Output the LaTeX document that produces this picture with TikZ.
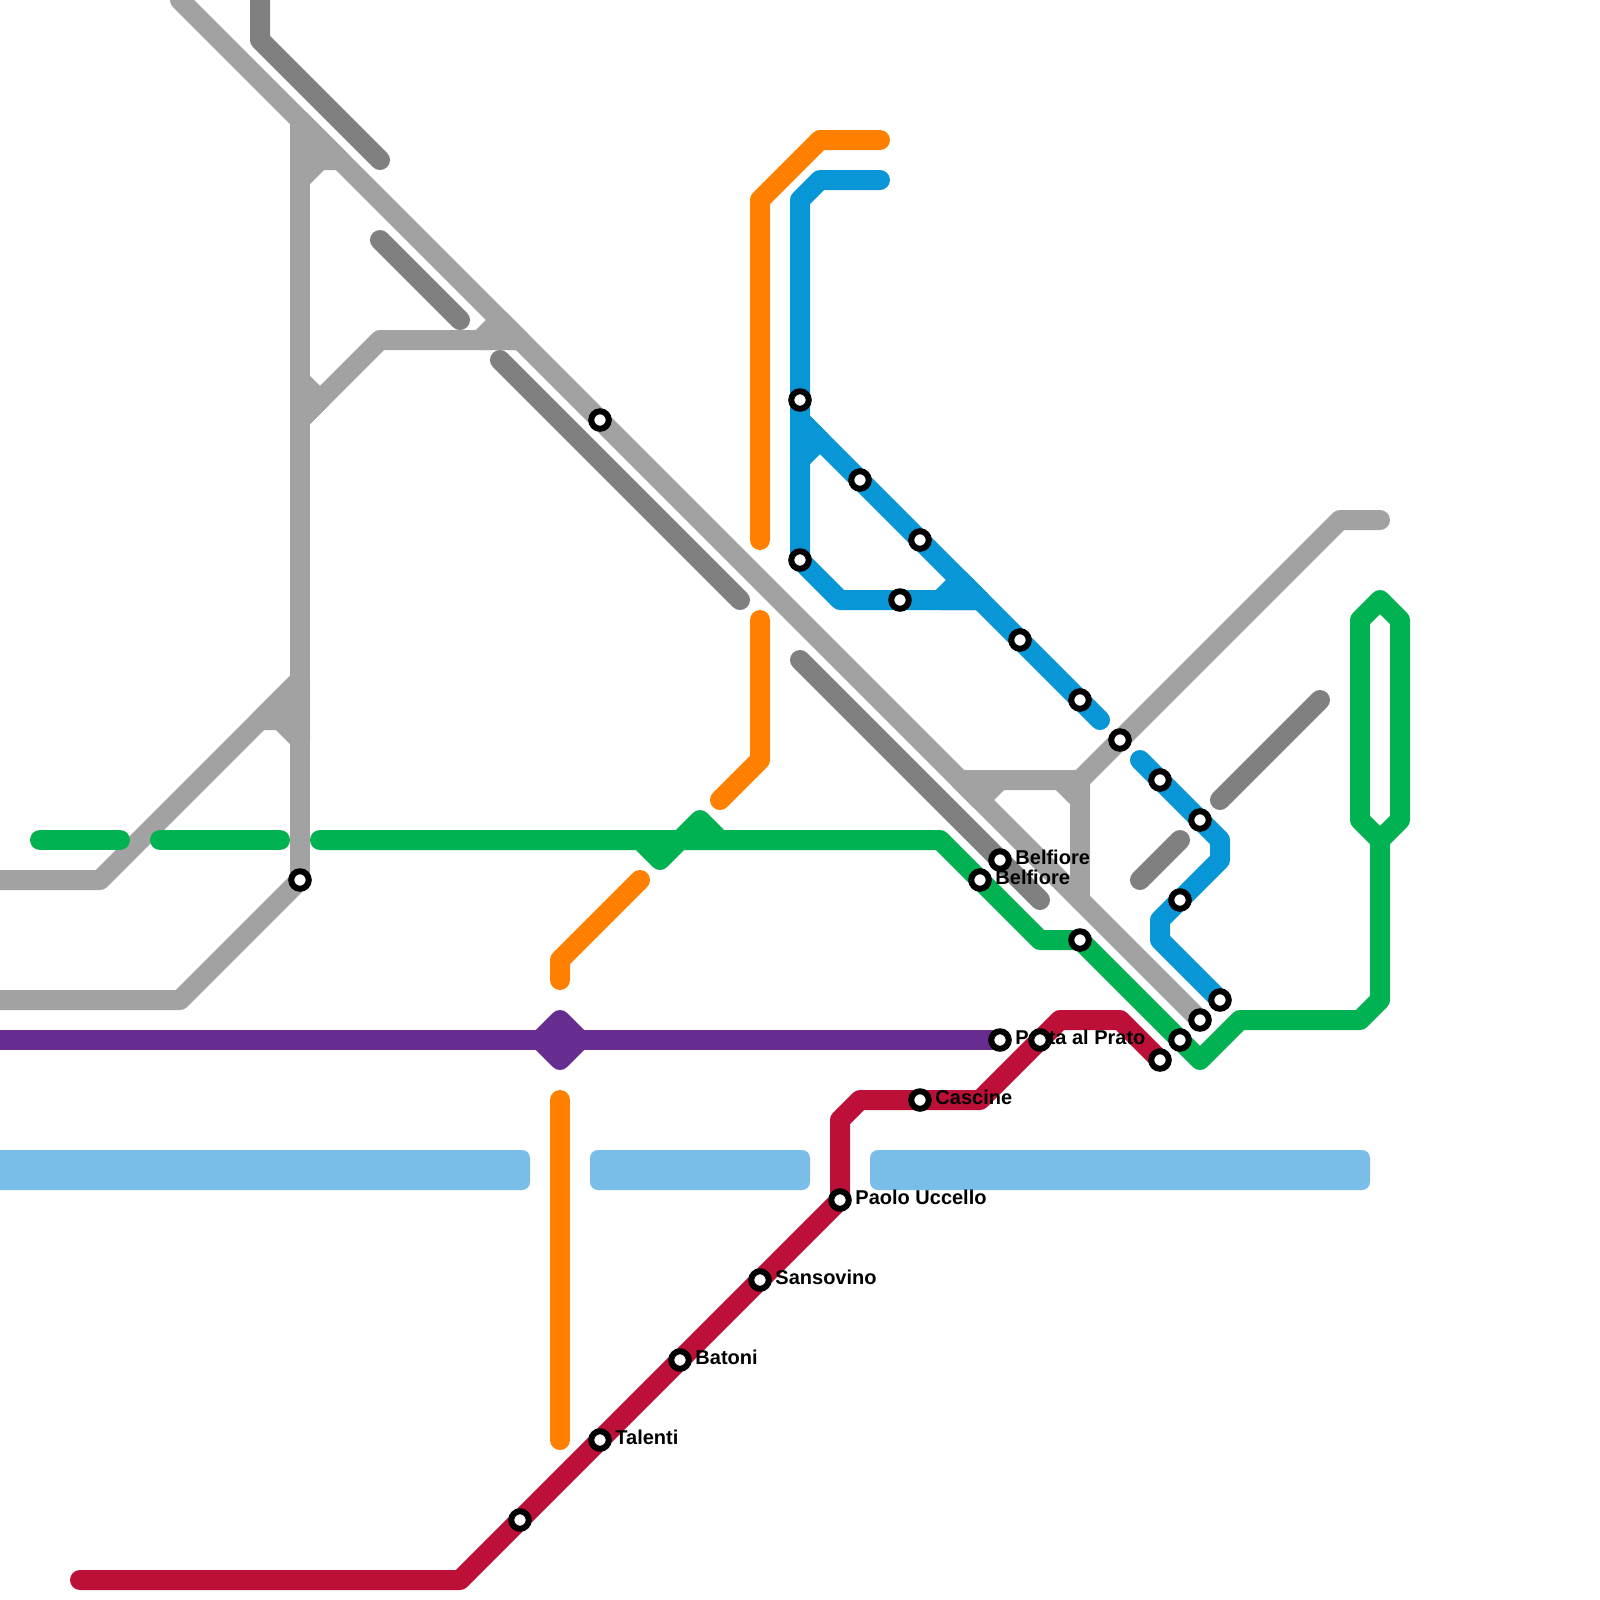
\documentclass[tikz,border=0pt]{standalone}
\usepackage{fontspec}
\setmainfont{Liberation Sans}
\usepackage{xcolor}
\usepackage{tikz}

\definecolor{ltgrey}{HTML}{A2A2A2}
\definecolor{dkgrey}{HTML}{808080}
\definecolor{mgreen}{HTML}{00B251}
\definecolor{mblue}{HTML}{0896D7}
\definecolor{morange}{HTML}{FF8000}
\definecolor{mpurple}{HTML}{662C90}
\definecolor{mred}{HTML}{BD1038}
\definecolor{river}{HTML}{79BDE9}

\begin{document}
\begin{tikzpicture}[x=0.2cm,y=-0.2cm,
    track/.style={line width=0.2cm,line cap=round,line join=round},
    stn/.style={circle,draw=black,fill=white,line width=0.06cm,minimum size=0.175cm,inner sep=0pt},
    stnname/.style={font=\fontsize{5.69pt}{6pt}\selectfont\bfseries,inner sep=0pt,text height=0.14cm,text depth=0pt,yshift=0.027cm},
    every label/.style={stnname},label distance=0.03cm]
  \useasboundingbox (0,0) rectangle (80,80);
  % river
  \fill[river,rounded corners=0.08cm] (-1,57.5) rectangle (26.5,59.5);
  \fill[river,rounded corners=0.08cm] (29.5,57.5) rectangle (40.5,59.5);
  \fill[river,rounded corners=0.08cm] (43.5,57.5) rectangle (68.5,59.5);
  % light grey lines
  \draw[track,ltgrey] (9,0) -- (60,51);
  \draw[track,ltgrey] (15,6) -- (15,44);
  \draw[track,ltgrey] (-1,44) -- (5,44) -- (15,34);
  \draw[track,ltgrey] (-1,50) -- (9,50) -- (15,44);
  \draw[track,ltgrey] (15,21) -- (19,17) -- (26,17);
  \draw[track,ltgrey] (48,39) -- (54,39) -- (67,26) -- (69,26);
  \draw[track,ltgrey] (54,39) -- (54,45);
  \filldraw[track,ltgrey] (15,6) -- (17,8) -- (16,8) -- (15,9) -- cycle;
  \filldraw[track,ltgrey] (15,19) -- (16,20) -- (15,21) -- cycle;
  \filldraw[track,ltgrey] (24,17) -- (25,16) -- (26,17) -- cycle;
  \filldraw[track,ltgrey] (15,34) -- (13,36) -- (14,36) -- (15,37) -- cycle;
  \filldraw[track,ltgrey] (48,39) -- (50,39) -- (49,40) -- cycle;
  \filldraw[track,ltgrey] (53,39) -- (54,39) -- (54,40) -- cycle;
  % dark grey lines
  \draw[track,dkgrey] (13,-1) -- (13,2) -- (19,8);
  \draw[track,dkgrey] (19,12) -- (23,16);
  \draw[track,dkgrey] (25,18) -- (37,30);
  \draw[track,dkgrey] (40,33) -- (52,45);
  \draw[track,dkgrey] (57,44) -- (59,42);
  \draw[track,dkgrey] (61,40) -- (66,35);
  % orange line
  \draw[track,morange] (44,7) -- (41,7) -- (38,10) -- (38,27);
  \draw[track,morange] (38,31) -- (38,38) -- (36,40);
  \draw[track,morange] (32,44) -- (28,48) -- (28,49);
  \draw[track,morange] (28,55) -- (28,72);
  % blue line
  \draw[track,mblue] (44,9) -- (41,9) -- (40,10) -- (40,28) -- (42,30) -- (49,30);
  \draw[track,mblue] (40,21) -- (55,36);
  \filldraw[track,mblue] (40,21) -- (41,22) -- (40,23) -- cycle;
  \filldraw[track,mblue] (47,30) -- (48,29) -- (49,30) -- cycle;
  \draw[track,mblue] (57,38) -- (61,42) -- (61,43) -- (58,46) -- (58,47) -- (61,50);
  % green line
  \draw[track,mgreen] (2,42) -- (6,42);
  \draw[track,mgreen] (8,42) -- (14,42);
  \draw[track,mgreen] (16,42) -- (47,42) -- (52,47) -- (54,47) -- (60,53) -- (62,51)
    -- (68,51) -- (69,50) -- (69,42) -- (68,41) -- (68,31) -- (69,30) -- (70,31) -- (70,41) -- (69,42);
  \draw[track,mgreen] (32,42) -- (33,43) -- (35,41) -- (36,42);
  % purple line
  \draw[track,mpurple] (-1,52) -- (50,52);
  \filldraw[track,mpurple] (27,52) -- (28,51) -- (29,52) -- (28,53) -- cycle;
  % red line
  \draw[track,mred] (4,79) -- (23,79) -- (42,60) -- (42,56) -- (43,55) -- (49,55)
    -- (53,51) -- (56,51) -- (58,53);
  % stations
  \node[stn] (fifteen) at (15,44) {};
  \node[stn] (greyA) at (30,21) {};
  \node[stn] (blueA) at (40,20) {};
  \node[stn] (blueB) at (40,28) {};
  \node[stn] (blueC) at (43,24) {};
  \node[stn] (blueD) at (46,27) {};
  \node[stn] (blueE) at (45,30) {};
  \node[stn] (blueF) at (51,32) {};
  \node[stn] (blueG) at (54,35) {};
  \node[stn] (greyB) at (56,37) {};
  \node[stn] (blueH) at (58,39) {};
  \node[stn] (blueI) at (60,41) {};
  \node[stn] (blueJ) at (59,45) {};
  \node[stn] (blueK) at (61,50) {};
  \node[stn,label=right:Belfiore] (belfioreA) at (50,43) {};
  \node[stn,label=right:Belfiore] (belfioreB) at (49,44) {};
  \node[stn] (greenA) at (54,47) {};
  \node[stn] (greyC) at (60,51) {};
  \node[stn] (greenB) at (59,52) {};
  \node[stn] (redA) at (58,53) {};
  \node[stn,label=right:Porta al Prato] (porta) at (50,52) {};
  \node[stn] (redB) at (52,52) {};
  \node[stn,label=right:Cascine] (cascine) at (46,55) {};
  \node[stn,label=right:Paolo Uccello] (uccello) at (42,60) {};
  \node[stn,label=right:Sansovino] (sansovino) at (38,64) {};
  \node[stn,label=right:Batoni] (batoni) at (34,68) {};
  \node[stn,label=right:Talenti] (talenti) at (30,72) {};
  \node[stn] (redC) at (26,76) {};
\end{tikzpicture}
\end{document}
